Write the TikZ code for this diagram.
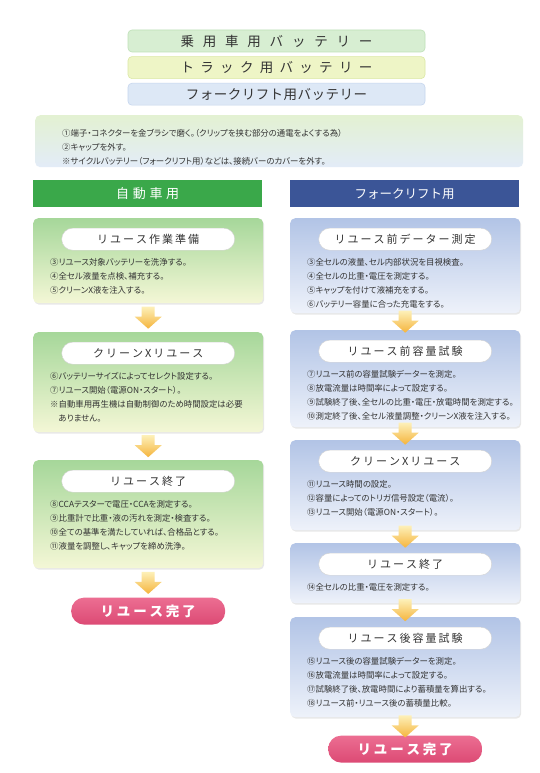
\documentclass[tikz,border=0pt]{standalone}
\usepackage{fontspec}
\setmainfont{Noto Sans CJK JP}
\newfontfamily\jpbody[RawFeature=+palt]{Noto Sans CJK JP}
\usepackage{tikz}
\usetikzlibrary{positioning, calc, shadows}
\definecolor{textc}{HTML}{333333}
\definecolor{carbarc}{HTML}{D7EED2}
\definecolor{carbard}{HTML}{BFE0B8}
\definecolor{truckbarc}{HTML}{EEF5C6}
\definecolor{truckbard}{HTML}{DBE8A4}
\definecolor{liftbarc}{HTML}{DDE8F6}
\definecolor{liftbard}{HTML}{C6D6EE}
\definecolor{notesTop}{HTML}{E3F1D2}
\definecolor{notesBot}{HTML}{E3ECF8}
\definecolor{carhead}{HTML}{3AA84A}
\definecolor{lifthead}{HTML}{3B5597}
\definecolor{carTop}{HTML}{A6D79A}
\definecolor{carBot}{HTML}{F4F7D6}
\definecolor{liftTop}{HTML}{B2C4E6}
\definecolor{liftBot}{HTML}{EEF2FA}
\definecolor{doneTop}{HTML}{EC6E92}
\definecolor{doneBot}{HTML}{DC4A74}
\definecolor{arrTop}{HTML}{FDF0B8}
\definecolor{arrBot}{HTML}{F5B43C}
% letter spacing for the headings
\newcommand{\spaced}[2]{\def\spacedamt{#1}\spacedstep#2\relax}
\def\spacedstep#1#2{#1\ifx\relax#2\else\kern\spacedamt\relax\expandafter\spacedstep\expandafter#2\fi}

\begin{document}
\begin{tikzpicture}[x=1pt, y=-1pt,
  txt/.style={text=textc, font=\jpbody\fontsize{8.4}{14}\selectfont, align=left, anchor=north west, inner sep=0pt},
  topbar/.style={rounded corners=4pt, minimum width=297pt, minimum height=22pt, inner sep=0pt, text=textc, font=\fontsize{13.5}{14}\selectfont, line width=0.6pt},
  headbar/.style={minimum width=229pt, minimum height=27pt, inner sep=0pt, anchor=north west, text=white, font=\fontsize{13}{14}\selectfont},
  carbox/.style={top color=carTop, bottom color=carBot, rounded corners=5pt, minimum width=230pt, drop shadow={opacity=0.18, shadow xshift=1pt, shadow yshift=-1.5pt}},
  liftbox/.style={top color=liftTop, bottom color=liftBot, rounded corners=5pt, minimum width=230pt, drop shadow={opacity=0.18, shadow xshift=1pt, shadow yshift=-1.5pt}},
  titlepill/.style={fill=white, draw=gray!35, line width=0.4pt, rounded corners=11pt, minimum width=173pt, minimum height=22pt, inner sep=0pt, text=textc, font=\fontsize{11}{12}\selectfont},
  donepill/.style={top color=doneTop, bottom color=doneBot, rounded corners=13pt, minimum width=154pt, minimum height=27pt, inner sep=0pt, text=white, font=\fontsize{13.5}{14}\selectfont\bfseries},
  flowarr/.style={top color=arrTop, bottom color=arrBot},
]
\useasboundingbox[fill=white] (0,0) rectangle (540,773);

\newcommand{\flowstep}[7]{%
  \node[#2, minimum height=#5pt, anchor=north west] (#1) at (#3,#4) {};
  \node[titlepill, below=10pt of #1.north] (#1t) {\spaced{2pt}{#6}};
  \node[txt, below right=40pt and 17pt of #1.north west] (#1x) {#7};
}
\newcommand{\flowarrow}[2]{%
  \path[flowarr] let \p1=(#1.south), \p2=(#2.north), \n1={0.5*(\y1+\y2)} in
    ({\x1-6.5pt},{\n1+11pt}) -- ({\x1+6.5pt},{\n1+11pt}) -- ({\x1+6.5pt},{\n1+1pt})
    -- ({\x1+13.5pt},{\n1+1pt}) -- (\x1,{\n1-11pt}) -- ({\x1-13.5pt},{\n1+1pt})
    -- ({\x1-6.5pt},{\n1+1pt}) -- cycle;
}

% battery types
\node[topbar, fill=carbarc, draw=carbard] (carbar) at (276.5,41) {\spaced{8.8pt}{乗用車用バッテリー}};
\node[topbar, fill=truckbarc, draw=truckbard, below=4pt of carbar] (truckbar) {\spaced{6.3pt}{トラック用バッテリー}};
\node[topbar, fill=liftbarc, draw=liftbard, below=4pt of truckbar] (liftbar) {\spaced{0.5pt}{フォークリフト用バッテリー}};

% common preparation
\node[top color=notesTop, bottom color=notesBot, rounded corners=5pt, minimum width=488pt, minimum height=52pt, anchor=north west] (notes) at (35,115) {};
\node[txt, below right=14pt and 27pt of notes.north west] (notesx) {①端子・コネクターを金ブラシで磨く。（クリップを挟む部分の通電をよくする為）\\②キャップを外す。\\※サイクルバッテリー（フォークリフト用）などは、接続バーのカバーを外す。};

% column heads
\node[headbar, fill=carhead] (carhead) at (33,180) {\spaced{3.7pt}{自動車用}};
\node[headbar, fill=lifthead, font=\fontsize{12.5}{14}\selectfont] (lifthead) at (290,180) {フォークリフト用};

% car column
\flowstep{c1}{carbox}{33}{218}{85}{リユース作業準備}{③リユース対象バッテリーを洗浄する。\\④全セル液量を点検、補充する。\\⑤クリーンX液を注入する。}
\flowstep{c2}{carbox}{33}{332}{100}{クリーンXリユース}{⑥バッテリーサイズによってセレクト設定する。\\⑦リユース開始（電源ON・スタート）。\\※自動車用再生機は自動制御のため時間設定は必要\\\hspace*{1em}ありません。}
\flowstep{c3}{carbox}{33}{460}{108}{リユース終了}{⑧CCAテスターで電圧・CCAを測定する。\\⑨比重計で比重・液の汚れを測定・検査する。\\⑩全ての基準を満たしていれば、合格品とする。\\⑪液量を調整し、キャップを締め洗浄。}
\node[donepill, below=29pt of c3] (cdone) {\spaced{2.8pt}{リユース完了}};

% forklift column
\flowstep{f1}{liftbox}{290}{218}{95}{リユース前データー測定}{③全セルの液量、セル内部状況を目視検査。\\④全セルの比重・電圧を測定する。\\⑤キャップを付けて液補充をする。\\⑥バッテリー容量に合った充電をする。}
\flowstep{f2}{liftbox}{290}{330}{97}{リユース前容量試験}{⑦リユース前の容量試験データーを測定。\\⑧放電流量は時間率によって設定する。\\⑨試験終了後、全セルの比重・電圧・放電時間を測定する。\\⑩測定終了後、全セル液量調整・クリーンX液を注入する。}
\flowstep{f3}{liftbox}{290}{440}{90}{クリーンXリユース}{⑪リユース時間の設定。\\⑫容量によってのトリガ信号設定（電流）。\\⑬リユース開始（電源ON・スタート）。}
\flowstep{f4}{liftbox}{290}{543}{60}{リユース終了}{⑭全セルの比重・電圧を測定する。}
\flowstep{f5}{liftbox}{290}{617}{100}{リユース後容量試験}{⑮リユース後の容量試験データーを測定。\\⑯放電流量は時間率によって設定する。\\⑰試験終了後、放電時間により蓄積量を算出する。\\⑱リユース前・リユース後の蓄積量比較。}
\node[donepill, below=18pt of f5] (fdone) {\spaced{2.8pt}{リユース完了}};

% arrows
\flowarrow{c1}{c2}
\flowarrow{c2}{c3}
\flowarrow{c3}{cdone}
\flowarrow{f1}{f2}
\flowarrow{f2}{f3}
\flowarrow{f3}{f4}
\flowarrow{f4}{f5}
\flowarrow{f5}{fdone}
\end{tikzpicture}
\end{document}
